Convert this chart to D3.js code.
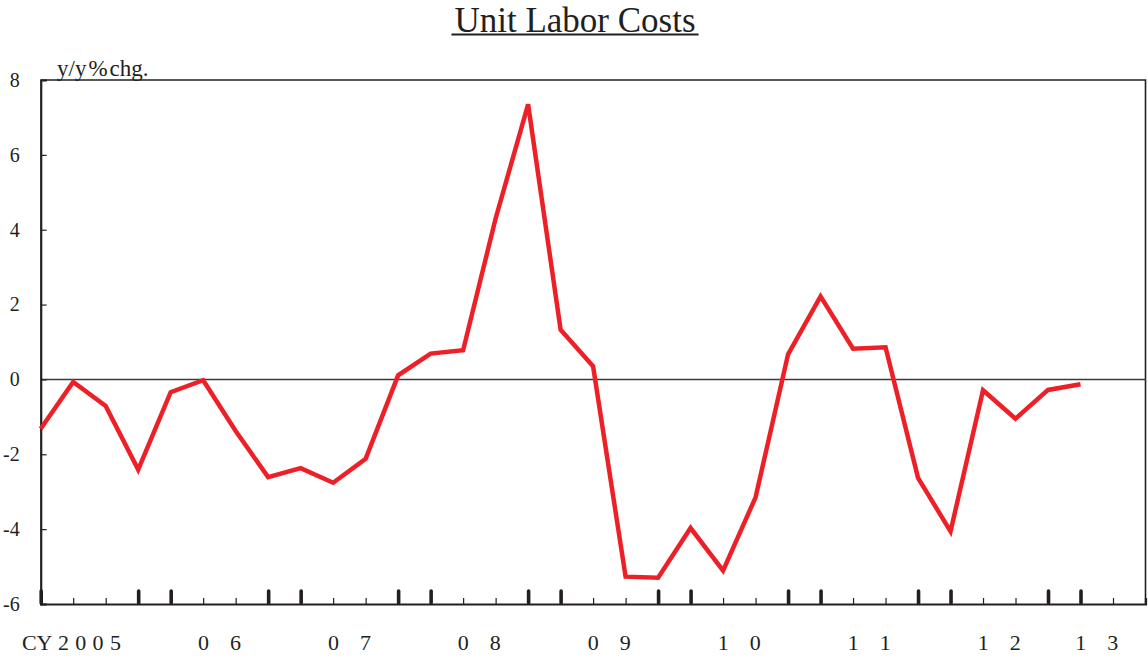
<!DOCTYPE html>
<html>
<head>
<meta charset="utf-8">
<script src="https://cdn.jsdelivr.net/npm/d3@7"></script>
<style>
  body { margin: 0; background: #fff; }
  svg text { font-family: 'Liberation Serif', 'Times New Roman', Times, 'DejaVu Serif', serif !important; fill: #231f20; }
</style>
</head>
<body>
<script>
// quarterly y/y % change, 2005Q1 .. 2013Q1
var quarters = d3.range(0, 33);
var values = [-1.32, -0.07, -0.71, -2.41, -0.34, -0.02, -1.38, -2.61,
              -2.37, -2.76, -2.12, 0.11, 0.69, 0.78, 4.30, 7.35,
              1.33, 0.35, -5.27, -5.30, -3.97, -5.11, -3.15, 0.67,
              2.22, 0.82, 0.86, -2.63, -4.06, -0.29, -1.05, -0.28,
              -0.13];
var yearLabels = ["2005", "06", "07", "08", "09", "10", "11", "12", "13"];
var yTicks = [-6, -4, -2, 0, 2, 4, 6, 8];

var width = 1148;
var height = 657;
var red = "#ed2027";
var serif = "'Liberation Serif', 'Times New Roman', Times, serif";

var svg = d3.select("body")
            .append("svg")
            .attr("width", width)
            .attr("height", height)
            .attr("font-family", serif);

var x = d3.scaleLinear().domain([0, 34]).range([40.7, 1145.5]);
var y = d3.scaleLinear().domain([-6, 8]).range([604, 80]);

// title with underline
var title = svg.append("text")
   .attr("x", 575)
   .attr("y", 31.5)
   .attr("text-anchor", "middle")
   .attr("font-size", "35px")
   .text("Unit Labor Costs");
var tw = title.node().getComputedTextLength();
svg.append("line")
   .attr("x1", 575 - tw / 2 - 3).attr("x2", 575 + tw / 2 + 3)
   .attr("y1", 34.5).attr("y2", 34.5)
   .attr("stroke", "#231f20")
   .attr("stroke-width", 2);

// unit label
var unit = svg.append("text")
   .attr("x", 57)
   .attr("y", 76)
   .attr("font-size", "23px");
unit.append("tspan").text("y/y");
unit.append("tspan").attr("dx", 2).text("%");
unit.append("tspan").attr("dx", 2).text("chg.");

// frame top and right
svg.append("path")
   .attr("d", "M" + x(0) + "," + y(8) + "H" + x(34) + "V" + y(-6))
   .attr("fill", "none")
   .attr("stroke", "#231f20")
   .attr("stroke-width", 1.6);

// zero line
svg.append("line")
   .attr("x1", x(0)).attr("x2", x(34))
   .attr("y1", y(0)).attr("y2", y(0))
   .attr("stroke", "#3a3a3a")
   .attr("stroke-width", 1.5);

// y axis
var yAxis = svg.append("g")
   .attr("transform", "translate(" + x(0) + ",0)")
   .call(d3.axisLeft(y).tickValues(yTicks).tickSize(-6).tickPadding(21)
           .tickFormat(function(d) { return String(d); }));
yAxis.attr("font-family", serif);
yAxis.select(".domain").attr("stroke", "#231f20").attr("stroke-width", 2.2);
yAxis.selectAll(".tick line").attr("stroke", "#231f20").attr("stroke-width", 1.2);
yAxis.selectAll(".tick text")
     .attr("font-size", "20px")
     .attr("fill", "#231f20");

// x axis: quarter ticks, thick at Q1 and Q4
var xTicks = d3.range(0, 34);
var xAxis = svg.append("g")
   .attr("transform", "translate(0," + y(-6) + ")")
   .call(d3.axisBottom(x).tickValues(xTicks).tickSize(-6).tickFormat(""));
xAxis.select(".domain").attr("stroke", "#231f20").attr("stroke-width", 2.2);
xAxis.selectAll(".tick line")
     .attr("stroke", "#231f20")
     .attr("stroke-width", function(d) { return (d % 4 == 0 || d % 4 == 3) ? 3.6 : 1.2; })
     .attr("stroke-linecap", function(d) { return (d % 4 == 0 || d % 4 == 3) ? "round" : "butt"; })
     .attr("y1", function(d) { return (d % 4 == 0 || d % 4 == 3) ? -1 : 0; })
     .attr("y2", function(d) { return (d % 4 == 0 || d % 4 == 3) ? -13 : -6; });

// year labels, centred on the quarters shown for each year
var labels = svg.append("g");
yearLabels.forEach(function(lab, k) {
    var qs = xTicks.filter(function(t) { return Math.floor(t / 4) == k; });
    var cx = x(d3.mean(qs));
    var pitch = lab.length == 4 ? 17.3 : 32;
    var chars = lab.split("");
    chars.forEach(function(c, j) {
        labels.append("text")
              .attr("x", cx + (j - (chars.length - 1) / 2) * pitch)
              .attr("y", 650)
              .attr("text-anchor", "middle")
              .attr("font-size", "22px")
              .text(c);
    });
    if (k == 0) {
        labels.append("text")
              .attr("x", cx - 1.5 * pitch - 11)
              .attr("y", 650)
              .attr("text-anchor", "end")
              .attr("font-size", "22px")
              .text("CY");
    }
});

// series
var line = d3.line()
             .x(function(d, i) { return x(quarters[i]); })
             .y(function(d) { return y(d); });

svg.append("path")
   .datum(values)
   .attr("d", line)
   .attr("fill", "none")
   .attr("stroke", red)
   .attr("stroke-width", 4.5)
   .attr("stroke-linejoin", "miter");
</script>
</body>
</html>
